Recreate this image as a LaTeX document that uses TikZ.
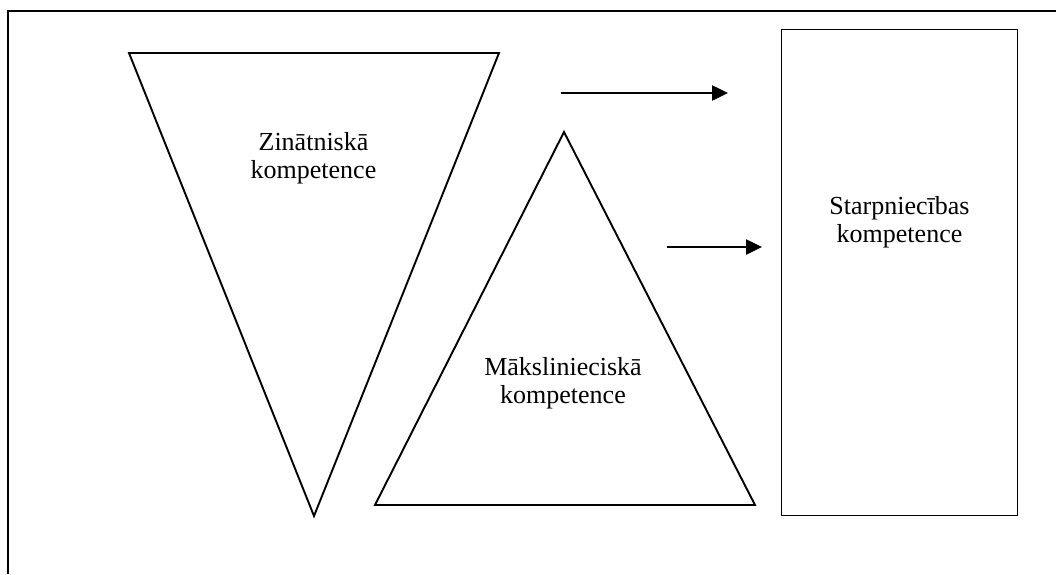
\documentclass[tikz,border=0pt]{standalone}
\usepackage{fontspec}
\setmainfont{Liberation Serif}
\usetikzlibrary{arrows.meta}
\begin{document}
\begin{tikzpicture}[x=1pt,y=-1pt,
  outline/.style={line width=1.9pt,line join=miter},
  frameline/.style={line width=2.2pt},
  flow/.style={line width=2.5pt,-{Triangle[length=16pt,width=15pt]}},
  label/.style={font=\fontsize{26}{28.5}\selectfont,align=center,inner sep=0pt},
  box/.style={draw,line width=1.9pt,minimum width=236pt,minimum height=486pt,inner sep=0pt}]
\useasboundingbox (0,0) rectangle (1056,574);
% outer frame (left and top edges)
\draw[frameline] (8,574) -- (8,11) -- (1056,11);

% inverted triangle
\coordinate (zA) at (129,53);
\coordinate (zB) at (499,53);
\coordinate (zC) at (314,516);
\draw[outline] (zA) -- (zB) -- (zC) -- cycle;
\node[label] (zin) at (313.5,158) {Zinātniskā\\kompetence};

% upright triangle
\coordinate (mA) at (564,132);
\coordinate (mB) at (755,505);
\coordinate (mC) at (375,505);
\draw[outline] (mA) -- (mB) -- (mC) -- cycle;
\node[label] (mak) at (563,383) {Mākslinieciskā\\kompetence};

% target box
\node[box] (sta) at (899.5,272.5) {};
\node[label] (stl) at (899.5,222) {Starpniecības\\kompetence};

% arrows
\coordinate (a1s) at (561,93);
\coordinate (a1e) at (728,93);
\coordinate (a2s) at (667,247);
\coordinate (a2e) at (762,247);
\draw[flow] (a1s) -- (a1e);
\draw[flow] (a2s) -- (a2e);
\end{tikzpicture}
\end{document}
